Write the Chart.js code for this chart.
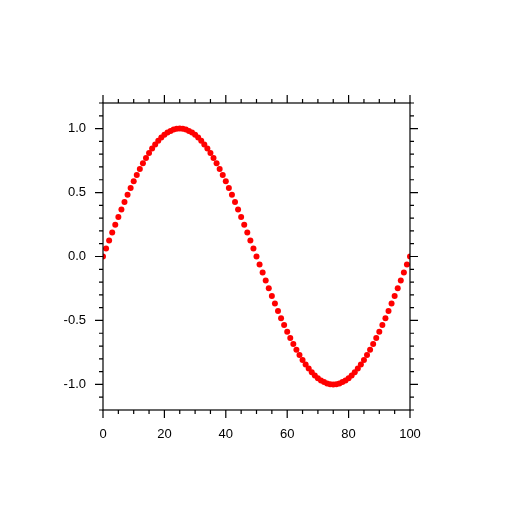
<!DOCTYPE html>
<html>
<head>
<meta charset="utf-8">
<script src="https://cdn.jsdelivr.net/npm/chart.js@4"></script>
<style>
  html, body { margin: 0; padding: 0; background: #fff; }
  #wrap { width: 514px; height: 514px; }
</style>
</head>
<body>
<div id="wrap"><canvas id="sine-chart"></canvas></div>
<script>
const xValues = [
    0, 1, 2, 3, 4, 5, 6, 7, 8, 9,
    10, 11, 12, 13, 14, 15, 16, 17, 18, 19,
    20, 21, 22, 23, 24, 25, 26, 27, 28, 29,
    30, 31, 32, 33, 34, 35, 36, 37, 38, 39,
    40, 41, 42, 43, 44, 45, 46, 47, 48, 49,
    50, 51, 52, 53, 54, 55, 56, 57, 58, 59,
    60, 61, 62, 63, 64, 65, 66, 67, 68, 69,
    70, 71, 72, 73, 74, 75, 76, 77, 78, 79,
    80, 81, 82, 83, 84, 85, 86, 87, 88, 89,
    90, 91, 92, 93, 94, 95, 96, 97, 98, 99,
    100,
];
const yValues = [
    0.000, 0.063, 0.125, 0.187, 0.249, 0.309, 0.368, 0.426, 0.482, 0.536,
    0.588, 0.637, 0.685, 0.729, 0.771, 0.809, 0.844, 0.876, 0.905, 0.930,
    0.951, 0.969, 0.982, 0.992, 0.998, 1.000, 0.998, 0.992, 0.982, 0.969,
    0.951, 0.930, 0.905, 0.876, 0.844, 0.809, 0.771, 0.729, 0.685, 0.637,
    0.588, 0.536, 0.482, 0.426, 0.368, 0.309, 0.249, 0.187, 0.125, 0.063,
    0.000, -0.063, -0.125, -0.187, -0.249, -0.309, -0.368, -0.426, -0.482, -0.536,
    -0.588, -0.637, -0.685, -0.729, -0.771, -0.809, -0.844, -0.876, -0.905, -0.930,
    -0.951, -0.969, -0.982, -0.992, -0.998, -1.000, -0.998, -0.992, -0.982, -0.969,
    -0.951, -0.930, -0.905, -0.876, -0.844, -0.809, -0.771, -0.729, -0.685, -0.637,
    -0.588, -0.536, -0.482, -0.426, -0.368, -0.309, -0.249, -0.187, -0.125, -0.063,
    0.000,
];
const xTickLabels = [0, 20, 40, 60, 80, 100];
const yTickLabels = [-1.0, -0.5, 0.0, 0.5, 1.0];

const axisColor = "#000";
const labelFont = { family: "'Liberation Sans', Arial, sans-serif", size: 13 };

// NCL style box: outward ticks on all four sides, drawn over the markers
const tickBox = {
    id: "tickBox",
    afterDatasetsDraw(chart) {
        const ctx = chart.ctx;
        const area = chart.chartArea;
        const xs = chart.scales.x;
        const ys = chart.scales.y;
        ctx.save();
        ctx.strokeStyle = axisColor;
        ctx.lineWidth = 1.2;
        ctx.strokeRect(area.left, area.top, area.right - area.left, area.bottom - area.top);

        ctx.beginPath();
        for (let v = 0; v <= 100; v += 5) {
            const px = xs.getPixelForValue(v);
            const len = v % 20 === 0 ? 8 : 4;
            ctx.moveTo(px, area.bottom);
            ctx.lineTo(px, area.bottom + len);
            ctx.moveTo(px, area.top);
            ctx.lineTo(px, area.top - len);
        }
        for (let i = -12; i <= 12; i++) {
            const v = i / 10;
            const py = ys.getPixelForValue(v);
            const len = i % 5 === 0 ? 8 : 4;
            ctx.moveTo(area.left, py);
            ctx.lineTo(area.left - len, py);
            ctx.moveTo(area.right, py);
            ctx.lineTo(area.right + len, py);
        }
        ctx.stroke();
        ctx.restore();
    },
};

const points = xValues.map((x, i) => ({ x: x, y: yValues[i] }));

new Chart(document.getElementById("sine-chart"), {
    type: "scatter",
    data: {
        datasets: [
            {
                data: points,
                backgroundColor: "#ff0000",
                borderWidth: 0,
                pointRadius: 3,
            },
        ],
    },
    options: {
        responsive: true,
        maintainAspectRatio: false,
        animation: false,
        layout: {
            padding: { top: 103, right: 104, left: 0, bottom: 0 },
        },
        plugins: {
            legend: { display: false },
            tooltip: { enabled: false },
        },
        scales: {
            x: {
                type: "linear",
                min: 0,
                max: 100,
                grid: { display: false, drawTicks: false },
                border: { display: false },
                afterBuildTicks: (scale) => {
                    scale.ticks = xTickLabels.map((v) => ({ value: v }));
                },
                afterFit: (scale) => {
                    scale.height = 104;
                },
                ticks: {
                    color: axisColor,
                    font: labelFont,
                    padding: 17,
                    maxRotation: 0,
                    callback: (v) => String(v),
                },
            },
            y: {
                type: "linear",
                min: -1.2,
                max: 1.2,
                grid: { display: false, drawTicks: false },
                border: { display: false },
                afterBuildTicks: (scale) => {
                    scale.ticks = yTickLabels.map((v) => ({ value: v }));
                },
                afterFit: (scale) => {
                    scale.width = 103;
                },
                ticks: {
                    color: axisColor,
                    font: labelFont,
                    padding: 17,
                    callback: (v) => Number(v).toFixed(1),
                },
            },
        },
    },
    plugins: [tickBox],
});
</script>
</body>
</html>
